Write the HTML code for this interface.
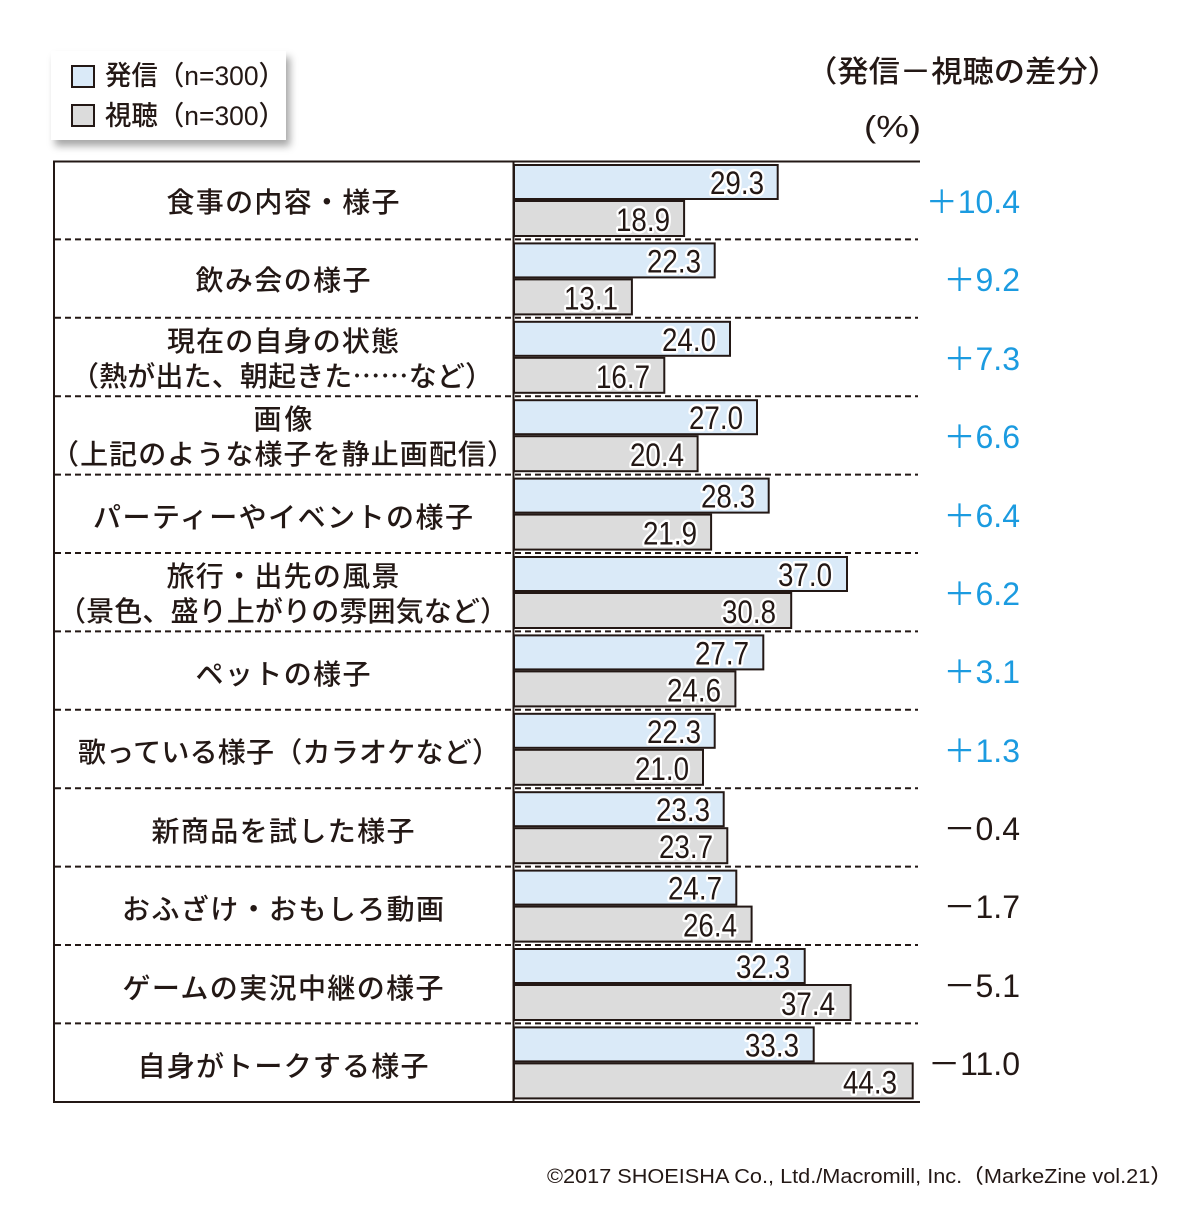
<!DOCTYPE html>
<html><head><meta charset="utf-8"><style>
html,body{margin:0;padding:0;background:#fff;}
svg{display:block;}
.cj{font-family:"Liberation Sans","Noto Sans CJK JP",sans-serif;fill:#231815;font-weight:500;}
.v{font-family:"Liberation Sans","Noto Sans CJK JP",sans-serif;font-size:32px;fill:#231815;stroke:#fff;stroke-width:5px;paint-order:stroke;stroke-linejoin:round;text-anchor:end;font-weight:500;}
.d{font-family:"Liberation Sans","Noto Sans CJK JP",sans-serif;font-size:32px;text-anchor:end;}
.cat{font-size:28px;text-anchor:middle;}
</style></head><body>
<svg width="1200" height="1227" viewBox="0 0 1200 1227" xmlns="http://www.w3.org/2000/svg">
<defs>
<filter id="sh" x="-20%" y="-20%" width="150%" height="160%">
<feDropShadow dx="4" dy="6" stdDeviation="4" flood-color="#000" flood-opacity="0.35"/>
</filter>
</defs>
<!-- legend -->
<rect x="51" y="51" width="235" height="89" fill="#fff" filter="url(#sh)"/>
<rect x="72" y="66" width="22" height="21" fill="#daeaf8" stroke="#231815" stroke-width="2"/>
<rect x="72" y="105" width="22" height="21" fill="#dcdcdc" stroke="#231815" stroke-width="2"/>
<text class="cj" x="105" y="85" font-size="27" textLength="180" lengthAdjust="spacingAndGlyphs">発信（n=300）</text>
<text class="cj" x="105" y="125" font-size="27" textLength="180" lengthAdjust="spacingAndGlyphs">視聴（n=300）</text>
<!-- header -->
<text class="cj" x="806" y="82" font-size="30" textLength="313" lengthAdjust="spacingAndGlyphs">（発信－視聴の差分）</text>
<text class="cj" x="864" y="137" font-size="31" textLength="57" lengthAdjust="spacingAndGlyphs">(%)</text>

<!-- frame -->
<g stroke="#231815" stroke-width="2" fill="none">
<line x1="53" y1="161.5" x2="920" y2="161.5"/>
<line x1="53" y1="1102" x2="920" y2="1102"/>
<line x1="54" y1="161" x2="54" y2="1103"/>
<line x1="513.5" y1="161" x2="513.5" y2="1103"/>
</g>
<g stroke="#231815" stroke-width="2" stroke-dasharray="6,4">
<line x1="55" y1="239.4" x2="918" y2="239.4"/>
<line x1="55" y1="317.8" x2="918" y2="317.8"/>
<line x1="55" y1="396.2" x2="918" y2="396.2"/>
<line x1="55" y1="474.6" x2="918" y2="474.6"/>
<line x1="55" y1="553" x2="918" y2="553"/>
<line x1="55" y1="631.4" x2="918" y2="631.4"/>
<line x1="55" y1="709.8" x2="918" y2="709.8"/>
<line x1="55" y1="788.2" x2="918" y2="788.2"/>
<line x1="55" y1="866.6" x2="918" y2="866.6"/>
<line x1="55" y1="945" x2="918" y2="945"/>
<line x1="55" y1="1023.4" x2="918" y2="1023.4"/>
</g>

<!-- category labels -->
<g class="cj cat">
<text x="283" y="212" textLength="233">食事の内容・様子</text>
<text x="283" y="290" textLength="175">飲み会の様子</text>
<text x="283" y="351" textLength="232">現在の自身の状態</text>
<text x="282" y="386" textLength="422">（熱が出た、朝起きた⋯⋯など）</text>
<text x="283" y="429" textLength="59">画像</text>
<text x="283" y="464" textLength="464">（上記のような様子を静止画配信）</text>
<text x="283" y="527" textLength="380">パーティーやイベントの様子</text>
<text x="283" y="586" textLength="233">旅行・出先の風景</text>
<text x="283" y="621" textLength="450">（景色、盛り上がりの雰囲気など）</text>
<text x="283" y="684" textLength="175">ペットの様子</text>
<text x="289" y="762" textLength="422">歌っている様子（カラオケなど）</text>
<text x="283" y="841" textLength="263">新商品を試した様子</text>
<text x="283" y="919" textLength="322">おふざけ・おもしろ動画</text>
<text x="283" y="998" textLength="321">ゲームの実況中継の様子</text>
<text x="283" y="1076" textLength="291">自身がトークする様子</text>
</g>

<!-- bars -->
<g stroke="#231815" stroke-width="2">
<rect x="514" y="165" width="263.7" height="34" fill="#daeaf8"/>
<rect x="514" y="201" width="170.1" height="35" fill="#dcdcdc"/>
<rect x="514" y="243.4" width="200.7" height="34" fill="#daeaf8"/>
<rect x="514" y="279.4" width="117.9" height="35" fill="#dcdcdc"/>
<rect x="514" y="321.8" width="216" height="34" fill="#daeaf8"/>
<rect x="514" y="357.8" width="150.3" height="35" fill="#dcdcdc"/>
<rect x="514" y="400.2" width="243" height="34" fill="#daeaf8"/>
<rect x="514" y="436.2" width="183.6" height="35" fill="#dcdcdc"/>
<rect x="514" y="478.6" width="254.7" height="34" fill="#daeaf8"/>
<rect x="514" y="514.6" width="197.1" height="35" fill="#dcdcdc"/>
<rect x="514" y="557" width="333" height="34" fill="#daeaf8"/>
<rect x="514" y="593" width="277.2" height="35" fill="#dcdcdc"/>
<rect x="514" y="635.4" width="249.3" height="34" fill="#daeaf8"/>
<rect x="514" y="671.4" width="221.4" height="35" fill="#dcdcdc"/>
<rect x="514" y="713.8" width="200.7" height="34" fill="#daeaf8"/>
<rect x="514" y="749.8" width="189" height="35" fill="#dcdcdc"/>
<rect x="514" y="792.2" width="209.7" height="34" fill="#daeaf8"/>
<rect x="514" y="828.2" width="213.3" height="35" fill="#dcdcdc"/>
<rect x="514" y="870.6" width="222.3" height="34" fill="#daeaf8"/>
<rect x="514" y="906.6" width="237.6" height="35" fill="#dcdcdc"/>
<rect x="514" y="949" width="290.7" height="34" fill="#daeaf8"/>
<rect x="514" y="985" width="336.6" height="35" fill="#dcdcdc"/>
<rect x="514" y="1027.4" width="299.7" height="34" fill="#daeaf8"/>
<rect x="514" y="1063.4" width="398.7" height="35" fill="#dcdcdc"/>
</g>

<!-- value labels -->
<g class="v">
<text x="764" y="194" textLength="54" lengthAdjust="spacingAndGlyphs">29.3</text>
<text x="670" y="231" textLength="54" lengthAdjust="spacingAndGlyphs">18.9</text>
<text x="701" y="272.4" textLength="54" lengthAdjust="spacingAndGlyphs">22.3</text>
<text x="618" y="309.4" textLength="54" lengthAdjust="spacingAndGlyphs">13.1</text>
<text x="716" y="350.8" textLength="54" lengthAdjust="spacingAndGlyphs">24.0</text>
<text x="650" y="387.8" textLength="54" lengthAdjust="spacingAndGlyphs">16.7</text>
<text x="743" y="429.2" textLength="54" lengthAdjust="spacingAndGlyphs">27.0</text>
<text x="684" y="466.2" textLength="54" lengthAdjust="spacingAndGlyphs">20.4</text>
<text x="755" y="507.6" textLength="54" lengthAdjust="spacingAndGlyphs">28.3</text>
<text x="697" y="544.6" textLength="54" lengthAdjust="spacingAndGlyphs">21.9</text>
<text x="832" y="586" textLength="54" lengthAdjust="spacingAndGlyphs">37.0</text>
<text x="776" y="623" textLength="54" lengthAdjust="spacingAndGlyphs">30.8</text>
<text x="749" y="664.4" textLength="54" lengthAdjust="spacingAndGlyphs">27.7</text>
<text x="721" y="701.4" textLength="54" lengthAdjust="spacingAndGlyphs">24.6</text>
<text x="701" y="742.8" textLength="54" lengthAdjust="spacingAndGlyphs">22.3</text>
<text x="689" y="779.8" textLength="54" lengthAdjust="spacingAndGlyphs">21.0</text>
<text x="710" y="821.2" textLength="54" lengthAdjust="spacingAndGlyphs">23.3</text>
<text x="713" y="858.2" textLength="54" lengthAdjust="spacingAndGlyphs">23.7</text>
<text x="722" y="899.6" textLength="54" lengthAdjust="spacingAndGlyphs">24.7</text>
<text x="737" y="936.6" textLength="54" lengthAdjust="spacingAndGlyphs">26.4</text>
<text x="790" y="978" textLength="54" lengthAdjust="spacingAndGlyphs">32.3</text>
<text x="835" y="1015" textLength="54" lengthAdjust="spacingAndGlyphs">37.4</text>
<text x="799" y="1056.4" textLength="54" lengthAdjust="spacingAndGlyphs">33.3</text>
<text x="897" y="1093.4" textLength="54" lengthAdjust="spacingAndGlyphs">44.3</text>
</g>

<!-- differences -->
<g class="d">
<text x="1020" y="213" fill="#1b9be0">＋10.4</text>
<text x="1020" y="291" fill="#1b9be0">＋9.2</text>
<text x="1020" y="370" fill="#1b9be0">＋7.3</text>
<text x="1020" y="448" fill="#1b9be0">＋6.6</text>
<text x="1020" y="527" fill="#1b9be0">＋6.4</text>
<text x="1020" y="605" fill="#1b9be0">＋6.2</text>
<text x="1020" y="683" fill="#1b9be0">＋3.1</text>
<text x="1020" y="762" fill="#1b9be0">＋1.3</text>
<text x="1020" y="840" fill="#231815">－0.4</text>
<text x="1020" y="918" fill="#231815">－1.7</text>
<text x="1020" y="997" fill="#231815">－5.1</text>
<text x="1020" y="1075" fill="#231815">－11.0</text>
</g>

<!-- copyright -->
<text class="cj" x="547" y="1183" font-size="20" font-weight="400" textLength="625" lengthAdjust="spacingAndGlyphs">©2017 SHOEISHA Co., Ltd./Macromill, Inc.（MarkeZine vol.21）</text>
</svg>
</body></html>
